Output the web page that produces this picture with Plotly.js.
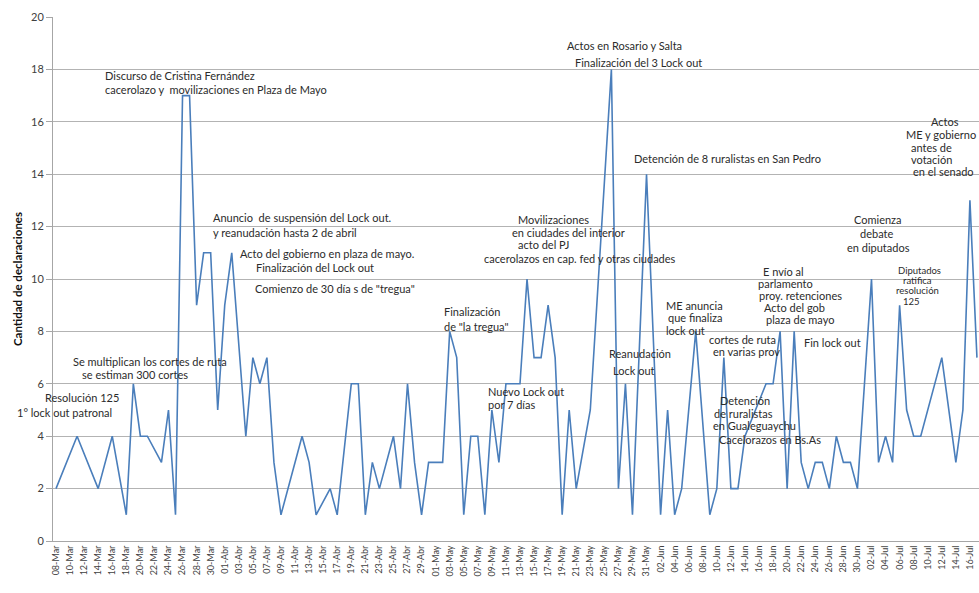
<!DOCTYPE html>
<html><head><meta charset="utf-8">
<script src="https://cdn.plot.ly/plotly-3.0.1.min.js"></script>
<style>html,body{margin:0;padding:0;background:#fff}#chart{width:979px;height:593px}</style>
</head><body><div id="chart"></div>
<script>
// ---- data ----
const dates = ['2008-03-08','2008-03-11','2008-03-14','2008-03-16','2008-03-18','2008-03-19','2008-03-20','2008-03-21','2008-03-23','2008-03-24','2008-03-25','2008-03-26','2008-03-27','2008-03-28','2008-03-29','2008-03-30','2008-03-31','2008-04-01','2008-04-02','2008-04-04','2008-04-05','2008-04-06','2008-04-07','2008-04-08','2008-04-09','2008-04-12','2008-04-13','2008-04-14','2008-04-16','2008-04-17','2008-04-19','2008-04-20','2008-04-21','2008-04-22','2008-04-23','2008-04-25','2008-04-26','2008-04-27','2008-04-28','2008-04-29','2008-04-30','2008-05-02','2008-05-03','2008-05-04','2008-05-05','2008-05-06','2008-05-07','2008-05-08','2008-05-09','2008-05-10','2008-05-11','2008-05-13','2008-05-14','2008-05-15','2008-05-16','2008-05-17','2008-05-18','2008-05-19','2008-05-20','2008-05-21','2008-05-23','2008-05-26','2008-05-27','2008-05-28','2008-05-29','2008-05-31','2008-06-02','2008-06-03','2008-06-04','2008-06-05','2008-06-07','2008-06-09','2008-06-10','2008-06-11','2008-06-12','2008-06-13','2008-06-14','2008-06-17','2008-06-18','2008-06-19','2008-06-20','2008-06-21','2008-06-22','2008-06-23','2008-06-24','2008-06-25','2008-06-26','2008-06-27','2008-06-28','2008-06-29','2008-06-30','2008-07-02','2008-07-03','2008-07-04','2008-07-05','2008-07-06','2008-07-07','2008-07-08','2008-07-09','2008-07-12','2008-07-14','2008-07-15','2008-07-16','2008-07-17'];
const counts = [2,4,2,4,1,6,4,4,3,5,1,17,17,9,11,11,5,9,11,4,7,6,7,3,1,4,3,1,2,1,6,6,1,3,2,4,2,6,3,1,3,3,8,7,1,4,4,1,5,3,6,6,10,7,7,9,7,1,5,2,5,18,2,6,1,14,1,5,1,2,8,1,2,7,2,2,4,6,6,8,2,8,3,2,3,3,2,4,3,3,2,10,3,4,3,9,5,4,4,7,3,5,13,7];

const tickDates = ['2008-03-08','2008-03-10','2008-03-12','2008-03-14','2008-03-16','2008-03-18','2008-03-20','2008-03-22','2008-03-24','2008-03-26','2008-03-28','2008-03-30','2008-04-01','2008-04-03','2008-04-05','2008-04-07','2008-04-09','2008-04-11','2008-04-13','2008-04-15','2008-04-17','2008-04-19','2008-04-21','2008-04-23','2008-04-25','2008-04-27','2008-04-29','2008-05-01','2008-05-03','2008-05-05','2008-05-07','2008-05-09','2008-05-11','2008-05-13','2008-05-15','2008-05-17','2008-05-19','2008-05-21','2008-05-23','2008-05-25','2008-05-27','2008-05-29','2008-05-31','2008-06-02','2008-06-04','2008-06-06','2008-06-08','2008-06-10','2008-06-12','2008-06-14','2008-06-16','2008-06-18','2008-06-20','2008-06-22','2008-06-24','2008-06-26','2008-06-28','2008-06-30','2008-07-02','2008-07-04','2008-07-06','2008-07-08','2008-07-10','2008-07-12','2008-07-14','2008-07-16'];
const tickLabels = ['08-Mar','10-Mar','12-Mar','14-Mar','16-Mar','18-Mar','20-Mar','22-Mar','24-Mar','26-Mar','28-Mar','30-Mar','01-Abr','03-Abr','05-Abr','07-Abr','09-Abr','11-Abr','13-Abr','15-Abr','17-Abr','19-Abr','21-Abr','23-Abr','25-Abr','27-Abr','29-Abr','01-May','03-May','05-May','07-May','09-May','11-May','13-May','15-May','17-May','19-May','21-May','23-May','25-May','27-May','29-May','31-May','02-Jun','04-Jun','06-Jun','08-Jun','10-Jun','12-Jun','14-Jun','16-Jun','18-Jun','20-Jun','22-Jun','24-Jun','26-Jun','28-Jun','30-Jun','02-Jul','04-Jul','06-Jul','08-Jul','10-Jul','12-Jul','14-Jul','16-Jul'];

const noteTexts = [
  'Discurso de Cristina Fernández',
  'cacerolazo y  movilizaciones en Plaza de Mayo',
  'Actos en Rosario y Salta',
  'Finalización del 3 Lock out',
  'Detención de 8 ruralistas en San Pedro',
  'Anuncio  de suspensión del Lock out.',
  'y reanudación hasta 2 de abril',
  'Acto del gobierno en plaza de mayo.',
  'Finalización del Lock out',
  'Comienzo de 30 día s de "tregua"',
  'Se multiplican los cortes de ruta',
  'se estiman 300 cortes',
  'Resolución 125',
  '1° lock out patronal',
  'Movilizaciones',
  'en ciudades del interior',
  'acto del PJ',
  'cacerolazos en cap. fed y otras ciudades',
  'Finalización',
  'de "la tregua"',
  'Nuevo Lock out',
  'por 7 días',
  'Reanudación',
  'Lock out',
  'ME anuncia',
  'que finaliza',
  'lock out',
  'cortes de ruta',
  'en varias prov',
  'Detención',
  'de ruralistas',
  'en Gualeguaychu',
  'Cacelorazos en Bs.As',
  'E nvío al',
  'parlamento',
  'proy. retenciones',
  'Acto del gob',
  'plaza de mayo',
  'Fin lock out',
  'Comienza',
  'debate',
  'en diputados',
  'Diputados',
  'ratifica',
  'resolución',
  '125',
  'Actos',
  'ME y gobierno',
  'antes de',
  'votación',
  'en el senado'
];

// ---- placement of note text: left edge px, middle y px, font size ----
const notePlacement = [
  [104,75,11],[104,90,11],[566,46,11],[574,62,11],[633,158,11],
  [212,218,11],[212,232,11],[239,253,11],[255,267,11],[254,288,11],
  [72,361,11],[81,374,11],[44,397,11],[16,412,11],
  [517,219,11],[511,232,11],[517,245,11],[483,258,11],
  [443,311,11],[443,326,11],[487,391,11],[487,404.5,11],
  [608,353,11],[612,370,11],
  [665,305,11],[667,317.5,11],[665,330,11],
  [708,339,11],[712,351.5,11],
  [719,400.5,11],[713,413,11],[712,425.5,11],[718,439,11],
  [762,271,11],[757,283,11],[758,295,11],[763,307,11],[765,319,11],
  [803,342,11],
  [853,219,11],[859,233,11],[846,247,11],
  [897,270,9.5],[902,280.5,9.5],[895,291,9.5],[902,301.5,9.5],
  [930,122,11],[905,134.5,11],[910,147,11],[910,159.5,11],[912,172,11]
];

const L = 53, R = 979, T = 17, B = 541;
const annotations = noteTexts.map((t, i) => ({
  text: t,
  xref: 'paper', yref: 'paper',
  x: (notePlacement[i][0] - L) / (R - L),
  y: (B - notePlacement[i][1]) / (B - T),
  xanchor: 'left', yanchor: 'middle',
  showarrow: false, borderpad: 0,
  font: {family: 'Lato, sans-serif', size: notePlacement[i][2], color: '#2b2b2b'}
}));

const trace = {
  x: dates, y: counts, type: 'scatter', mode: 'lines',
  line: {color: '#4A7EBB', width: 1.6},
  hoverinfo: 'skip'
};

const layout = {
  width: 979, height: 593,
  margin: {l: L, r: 979 - R, t: T, b: 593 - B},
  paper_bgcolor: '#ffffff', plot_bgcolor: '#ffffff',
  font: {family: 'Lato, sans-serif', color: '#404040'},
  showlegend: false,
  xaxis: {
    type: 'date',
    range: ['2008-03-07 13:45', '2008-07-17 07:00'],
    tickmode: 'array', tickvals: tickDates, ticktext: tickLabels,
    tickangle: -90, tickfont: {size: 9, color: '#404040'},
    showgrid: false, zeroline: false,
    showline: true, linecolor: '#a6a6a6', linewidth: 1,
    ticks: '', fixedrange: true
  },
  yaxis: {
    range: [0, 20], dtick: 2, tick0: 0,
    tickfont: {size: 11, color: '#404040'},
    showgrid: true, gridcolor: '#b3b3b3', gridwidth: 1,
    zeroline: false, showline: true, linecolor: '#a6a6a6',
    ticks: 'outside', ticklen: 6, tickcolor: '#a6a6a6',
    title: {text: 'Cantidad de declaraciones', font: {size: 11.5, color: '#111111', family: 'Lato, sans-serif', weight: 'bold'}, standoff: 6},
    fixedrange: true
  },
  annotations: annotations
};

Plotly.newPlot('chart', [trace], layout, {staticPlot: true, displayModeBar: false});
</script></body></html>
